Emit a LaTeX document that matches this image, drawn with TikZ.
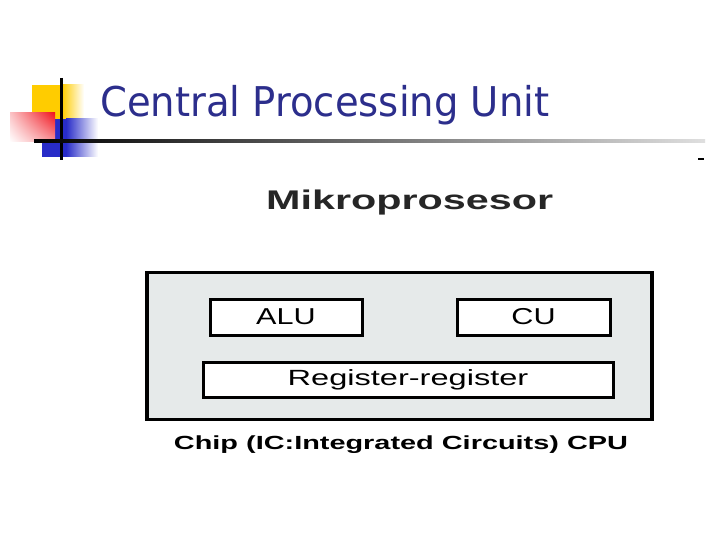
\documentclass[tikz,border=0pt]{standalone}
\usepackage{fontspec}
\setmainfont{Liberation Sans}
\newfontfamily\titlefont{DejaVu Sans}
\usetikzlibrary{shadings}
\definecolor{titleblue}{RGB}{44,46,140}
\definecolor{logoyellow}{RGB}{255,204,0}
\definecolor{logoblue}{RGB}{40,44,200}
\definecolor{logored}{RGB}{240,20,30}
\definecolor{chipfill}{RGB}{230,234,234}
\tikzset{
  unitbox/.style={draw=black, line width=3pt, fill=white, inner sep=0pt},
  chipbox/.style={draw=black, line width=3.5pt, fill=chipfill, inner sep=0pt},
  boxtext/.style={font=\fontsize{23}{26}\selectfont}
}
\begin{document}
\begin{tikzpicture}[x=1pt, y=-1pt]
    \useasboundingbox[fill=white] (0,0) rectangle (720,540);

    % Logo
    \fill[logoyellow] (32,85) rectangle (62,119);
    \shade[left color=logoyellow, right color=white] (62,85) rectangle (84,119);
    \fill[logoblue] (42,119) rectangle (66,157);
    \shade[left color=logoblue, right color=white] (66,119) rectangle (98,157);
    \shade[upper right=logored, upper left=logored!25, lower right=logored!45, lower left=white] (10,113) rectangle (55,142);
    \draw[line width=3pt] (61,78) -- (61,160);
    \shade[left color=black, right color=gray!25] (34,139.5) rectangle (705,142.5);
    \draw[line width=2pt] (698,159) -- (704,159);

    % Titel
    \node[anchor=base west, inner sep=0pt, text=titleblue] (title) at (100,117)
        {\titlefont\fontsize{41}{46}\selectfont\scalebox{0.94}[1]{Central Processing Unit}};
    \node[anchor=base west, inner sep=0pt, text=black!85] (mikro) at (266,210)
        {\fontsize{27}{30}\selectfont\bfseries\scalebox{1.53}[1]{Mikroprosesor}};

    % Chip mit Einheiten
    \node[chipbox, minimum width=505pt, minimum height=147pt] (chip) at (399.5,346) {};
    \node[unitbox, minimum width=152pt, minimum height=36pt, boxtext] (alu) at (286,317)
        {\scalebox{1.33}[1]{ALU}};
    \node[unitbox, minimum width=153pt, minimum height=36pt, boxtext] (cu) at (533.5,317)
        {\scalebox{1.33}[1]{CU}};
    \node[unitbox, minimum width=410pt, minimum height=35pt, font=\fontsize{22}{25}\selectfont] (reg) at (408,379.5)
        {\scalebox{1.48}[1]{Register-register}};

    % Beschriftung
    \node[anchor=base, inner sep=0pt] (caption) at (401,449)
        {\fontsize{19}{22}\selectfont\bfseries\scalebox{1.52}[1]{Chip (IC:Integrated Circuits) CPU}};
\end{tikzpicture}
\end{document}
